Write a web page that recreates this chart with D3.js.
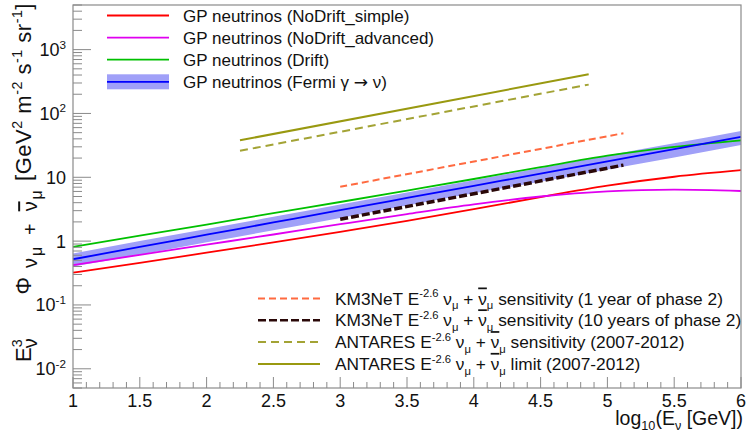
<!DOCTYPE html>
<html>
<head>
<meta charset="utf-8">
<script src="https://cdn.jsdelivr.net/npm/d3@7"></script>
<style>
  body { margin: 0; background: #fff; }
  svg { font-family: "Liberation Sans", Arial, sans-serif; }
  text { white-space: pre; }
</style>
</head>
<body>
<svg id="chart"></svg>
<script>
const WIDTH = 752;
const HEIGHT = 435;
const MARGIN = { top: 5, right: 11, bottom: 47, left: 73 };

// log10(E / GeV) sample points for the model curves
const LOG_E = [1, 1.5, 2, 2.5, 3, 3.5, 4, 4.5, 5, 5.5, 6];
const NODRIFT_SIMPLE = [0.32, 0.457, 0.66, 0.955, 1.4, 2.07, 3.16, 4.9, 7.4, 10.2, 12.9];
const NODRIFT_ADVANCED = [0.42, 0.61, 0.88, 1.27, 1.84, 2.65, 3.75, 5.0, 6.0, 6.4, 6.1];
const DRIFT = [0.81, 1.22, 1.82, 2.75, 4.1, 6.2, 9.4, 14.4, 21.8, 30, 38];
const FERMI = [0.52, 0.81, 1.26, 1.96, 3.05, 4.74, 7.36, 11.4, 17.8, 27.6, 43];
const FERMI_LOW = [0.4, 0.61, 0.96, 1.48, 2.3, 3.6, 5.6, 8.5, 13.3, 20.5, 32];
const FERMI_HIGH = [0.64, 1.0, 1.55, 2.4, 3.75, 5.8, 9.0, 14, 22, 34, 53];

// E^-2.6 sensitivities / limits (straight lines)
const KM3NET_E = [3, 5.12];
const KM3NET_1YR = [7.1, 49];
const KM3NET_10YR = [2.2, 15.5];
const ANTARES_E = [2.25, 4.86];
const ANTARES_SENS = [26, 283];
const ANTARES_LIMIT = [38, 410];

const X_TICKS = [1, 1.5, 2, 2.5, 3, 3.5, 4, 4.5, 5, 5.5, 6];
const Y_TICKS = [0.01, 0.1, 1, 10, 100, 1000];
const Y_LABELS = [["10", "-2"], ["10", "-1"], ["1", ""], ["10", ""], ["10", "2"], ["10", "3"]];

const svg = d3.select("#chart").attr("width", WIDTH).attr("height", HEIGHT);

const x = d3.scaleLinear().domain([1, 6]).range([MARGIN.left, WIDTH - MARGIN.right]);
const y = d3.scaleLog().domain([0.005, 5000]).range([HEIGHT - MARGIN.bottom, MARGIN.top]);

// text with super/subscripts built from tspans; "bar" gets an overline
function rich(sel, parts, size, subScale = 0.65) {
  let offset = 0;
  parts.forEach((p) => {
    const [str, kind, dx, bar, family] = typeof p === "string" ? [p, "n", 0, false, null] : p;
    const shift = { n: 0, sup: -size * 0.42, sub: size * 0.28, sub2: size * 0.5 }[kind];
    const fs = { n: 1, sup: 0.65, sub: subScale, sub2: subScale * 0.8 }[kind];
    sel.append("tspan")
      .attr("dy", shift - offset)
      .attr("dx", dx || 0)
      .attr("font-size", size * fs)
      .attr("font-family", family || null)
      .style("text-decoration", bar ? "overline" : null)
      .text(str);
    offset = shift;
  });
}

const pts = (xs, ys) => xs.map((d, i) => [d, ys[i]]);
const line = d3.line().x((d) => x(d[0])).y((d) => y(d[1])).curve(d3.curveMonotoneX);
const area = d3.area()
  .x((d) => x(d[0]))
  .y0((d) => y(d[1]))
  .y1((d) => y(d[2]))
  .curve(d3.curveMonotoneX);

const plot = svg.append("g");

plot.append("path")
  .attr("d", area(LOG_E.map((e, i) => [e, FERMI_LOW[i], FERMI_HIGH[i]])))
  .attr("fill", "#a0a0f8");

const series = [
  { data: pts(LOG_E, NODRIFT_SIMPLE), color: "#ff0000", width: 1.8 },
  { data: pts(LOG_E, NODRIFT_ADVANCED), color: "#e000f0", width: 1.8 },
  { data: pts(LOG_E, DRIFT), color: "#00c000", width: 1.8 },
  { data: pts(LOG_E, FERMI), color: "#0000ff", width: 1.8 },
  { data: pts(KM3NET_E, KM3NET_1YR), color: "#ff6a40", width: 2, dash: "7,4" },
  { data: pts(KM3NET_E, KM3NET_10YR), color: "#2a0808", width: 3.5, dash: "8,3" },
  { data: pts(ANTARES_E, ANTARES_SENS), color: "#a3a335", width: 2, dash: "8,5" },
  { data: pts(ANTARES_E, ANTARES_LIMIT), color: "#999910", width: 2 },
];

series.forEach((s) => {
  plot.append("path")
    .attr("d", line(s.data))
    .attr("fill", "none")
    .attr("stroke", s.color)
    .attr("stroke-width", s.width)
    .attr("stroke-dasharray", s.dash || null);
});

// frame
svg.append("rect")
  .attr("x", MARGIN.left)
  .attr("y", MARGIN.top)
  .attr("width", WIDTH - MARGIN.left - MARGIN.right)
  .attr("height", HEIGHT - MARGIN.top - MARGIN.bottom)
  .attr("fill", "none")
  .attr("stroke", "#8a8a8a")
  .attr("stroke-width", 1.2);

// x ticks
const xMinor = d3.range(10, 61).map((d) => d / 10);
svg.append("g").attr("stroke", "#8a8a8a").attr("stroke-width", 1)
  .selectAll("line")
  .data(xMinor)
  .enter()
  .append("line")
  .attr("x1", (d) => x(d)).attr("x2", (d) => x(d))
  .attr("y1", y.range()[0]).attr("y2", (d) => y.range()[0] - (X_TICKS.includes(d) ? 11 : 6));

svg.selectAll("text.xlab")
  .data(X_TICKS)
  .enter()
  .append("text")
  .attr("class", "xlab")
  .attr("x", (d) => x(d))
  .attr("y", 407)
  .attr("text-anchor", "middle")
  .attr("font-size", 18)
  .attr("fill", "#111")
  .text((d) => d);

// y ticks
const yAll = y.ticks();
svg.append("g").attr("stroke", "#8a8a8a").attr("stroke-width", 1)
  .selectAll("line")
  .data(yAll)
  .enter()
  .append("line")
  .attr("x1", MARGIN.left)
  .attr("x2", (d) => MARGIN.left + (Y_TICKS.includes(+d.toPrecision(3)) ? 18 : 9))
  .attr("y1", (d) => y(d)).attr("y2", (d) => y(d));

Y_TICKS.forEach((v, i) => {
  const [base, exp] = Y_LABELS[i];
  const t = svg.append("text")
    .attr("x", 66)
    .attr("y", y(v) + 6.5)
    .attr("text-anchor", "end")
    .attr("fill", "#111");
  rich(t, exp ? [base, [exp, "sup"]] : [base], 18);
});

// axis titles
const xt = svg.append("text")
  .attr("x", WIDTH - MARGIN.right + 2)
  .attr("y", 425)
  .attr("text-anchor", "end")
  .attr("fill", "#111");
rich(xt, ["log", ["10", "sub"], "(E", ["ν", "sub"], " [GeV])"], 19.5);

// y title in two pieces: quantity from the bottom, units from the top
const ytQty = svg.append("text")
  .attr("transform", "translate(31,362) rotate(-90)")
  .attr("fill", "#111");
rich(ytQty, [
  "E", ["3", "sup"], ["ν", "sub", -9], ["Φ", "n", 44],
  ["ν", "sub", 9], ["μ", "sub2", 2], ["+", "sub", 12], ["ν", "sub", 12, true], ["μ", "sub2", 2],
], 22, 0.9);

const ytUnit = svg.append("text")
  .attr("transform", "translate(31,3) rotate(-90)")
  .attr("text-anchor", "end")
  .attr("letter-spacing", 0.5)
  .attr("fill", "#111");
rich(ytUnit, [
  "[GeV", ["2", "sup"], " m", ["-2", "sup"], " s", ["-1", "sup"], " sr", ["-1", "sup"], "]",
], 22);

// legends
const legendTop = [
  { s: series[0], label: ["GP neutrinos (NoDrift_simple)"] },
  { s: series[1], label: ["GP neutrinos (NoDrift_advanced)"] },
  { s: series[2], label: ["GP neutrinos (Drift)"] },
  { s: series[3], label: ["GP neutrinos (Fermi γ ", ["\u2192", "n", 0, false, "DejaVu Sans"], " ν)"], band: true },
];
const nuPart = (tail) => [["-2.6", "sup"], " ν", ["μ", "sub"], " + ", ["ν", "n", 0, true], ["μ", "sub"], tail];
const legendBottom = [
  { s: series[4], label: ["KM3NeT E", ...nuPart(" sensitivity (1 year of phase 2)")] },
  { s: series[5], label: ["KM3NeT E", ...nuPart(" sensitivity (10 years of phase 2)")] },
  { s: series[6], label: ["ANTARES E", ...nuPart(" sensitivity (2007-2012)")] },
  { s: series[7], label: ["ANTARES E", ...nuPart(" limit (2007-2012)")] },
];

function drawLegend(items, x0, y0, dy, textX, size) {
  items.forEach((d, i) => {
    const yy = y0 + i * dy;
    if (d.band) {
      svg.append("rect")
        .attr("x", x0).attr("y", yy - 7.5)
        .attr("width", 62).attr("height", 15)
        .attr("fill", "#a0a0f8");
    }
    svg.append("line")
      .attr("x1", x0).attr("x2", x0 + 62)
      .attr("y1", yy).attr("y2", yy)
      .attr("stroke", d.s.color)
      .attr("stroke-width", Math.min(d.s.width, 2.5))
      .attr("stroke-dasharray", d.s.dash || null);
    const t = svg.append("text")
      .attr("x", textX)
      .attr("y", yy + 6)
      .attr("fill", "#111");
    rich(t, d.label, size);
  });
}

drawLegend(legendTop, 107, 15.5, 22.1, 183, 17);
drawLegend(legendBottom, 258, 298.5, 21.8, 335, 17.3);
</script>
</body>
</html>
